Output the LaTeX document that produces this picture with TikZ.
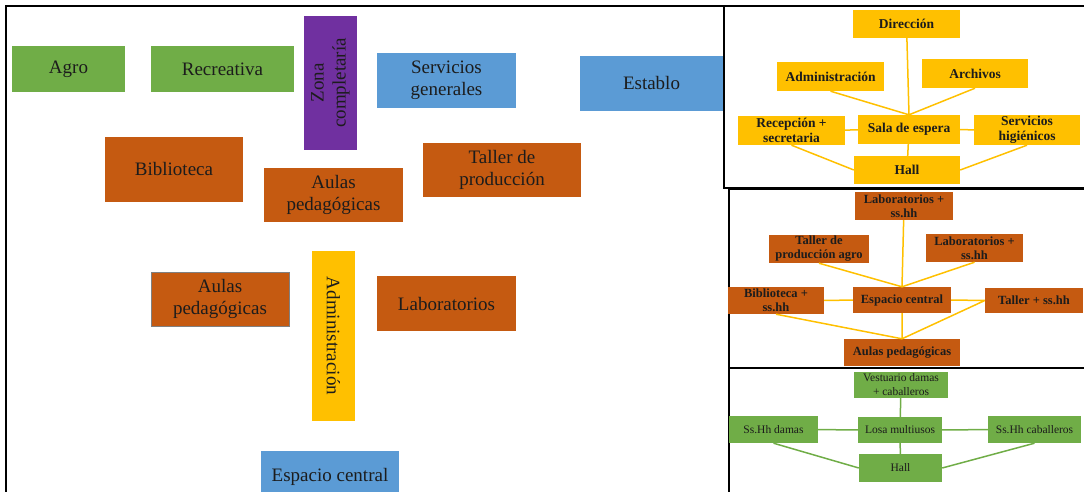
\documentclass[tikz,border=0pt]{standalone}
\usepackage{fontspec}
\setmainfont{Liberation Serif}
\definecolor{GRN}{HTML}{70AD47}
\definecolor{BLU}{HTML}{5B9BD5}
\definecolor{ORA}{HTML}{C55A11}
\definecolor{PUR}{HTML}{7030A0}
\definecolor{YEL}{HTML}{FFC000}
\definecolor{TXT}{HTML}{1C1C1C}
\tikzset{
  zone/.style={% Style for the big zones of the plan
      rectangle,
      inner sep=0pt,
      align=center,
      text=TXT,
      font=\fontsize{19}{22}\selectfont,
  },
  zgrn/.style={zone, fill=GRN},
  zblu/.style={zone, fill=BLU},
  zora/.style={zone, fill=ORA},
  zpur/.style={zone, fill=PUR},
  zyel/.style={zone, fill=YEL},
  room/.style={% Style for the rooms of the small schemes
      rectangle,
      inner sep=0pt,
      align=center,
      text=TXT,
      font=\bfseries\fontsize{13.5}{15}\selectfont,
  },
  ryel/.style={room, fill=YEL},
  rora/.style={room, fill=ORA, font=\bfseries\fontsize{12.5}{14}\selectfont},
  rgrn/.style={room, fill=GRN, font=\fontsize{11.5}{14}\selectfont},
  link/.style={line width=1.5pt, draw=#1},
  panel/.style={line width=1.4pt, draw=black}
}

\begin{document}
\begin{tikzpicture}[x=1pt, y=-1pt]
    \useasboundingbox (0,0) rectangle (1084,492);
    % frames
    \draw[panel] (724,6) -- (6,6) -- (6,500);
    \draw[panel] (724,6) rectangle (1090,188);
    \draw[panel] (729,189) rectangle (1090,368);
    \draw[panel] (729,368) rectangle (1090,500);

    % zoning of the whole plan
    \node[zgrn, minimum width=113, minimum height=46] (agro) at (68.5,69) {Agro};
    \node[zgrn, minimum width=143, minimum height=46] (recre) at (222.5,69) {Recreativa};
    \node[zpur, rotate=90, minimum width=134, minimum height=53] (zona) at (330.5,83) {Zona\\completaría};
    \node[zblu, minimum width=139, minimum height=55] (servg) at (446.5,80.5) {Servicios\\generales};
    \node[zblu, minimum width=143, minimum height=55] (establo) at (651.5,83.5) {Establo};
    \node[zora, minimum width=138, minimum height=65] (biblio) at (174,169.5) {Biblioteca};
    \node[zora, minimum width=139, minimum height=54] (aulasA) at (333.5,195) {Aulas\\pedagógicas};
    \node[zora, minimum width=158, minimum height=54] (tallerP) at (502,170) {Taller de\\producción};
    \node[zora, draw=gray, line width=1pt, minimum width=138, minimum height=54] (aulasB) at (220,299) {Aulas\\pedagógicas};
    \node[zyel, rotate=-90, minimum width=170, minimum height=43] (admin) at (333.5,336) {Administración};
    \node[zora, minimum width=139, minimum height=55] (labs) at (446.5,303.5) {Laboratorios};
    \node[zblu, minimum width=138, minimum height=52] (espacio) at (330,477) {Espacio central};

    % administration scheme
    \node[ryel, minimum width=107, minimum height=28] (dir) at (906.5,24) {Dirección};
    \node[ryel, minimum width=107, minimum height=29] (adm) at (830.5,76.5) {Administración};
    \node[ryel, minimum width=106, minimum height=29] (arch) at (975,73.5) {Archivos};
    \node[ryel, minimum width=107, minimum height=29] (recep) at (791.5,130.5) {Recepción +\\secretaria};
    \node[ryel, minimum width=102, minimum height=29] (sala) at (909,129.5) {Sala de espera};
    \node[ryel, minimum width=106, minimum height=30] (servh) at (1027,130) {Servicios\\higiénicos};
    \node[ryel, minimum width=106, minimum height=28] (hallA) at (907,170) {Hall};
    \draw[link=YEL]
      (dir) -- (sala.north)
      (adm.south) -- (sala.north)
      (arch.south) -- (sala.north)
      (recep) -- (sala)
      (sala) -- (servh)
      (sala) -- (hallA)
      (recep.south) -- (hallA.west)
      (servh.south) -- (hallA.east);

    % pedagogical scheme
    \node[rora, minimum width=98, minimum height=28] (labA) at (904,206) {Laboratorios +\\ss.hh};
    \node[rora, minimum width=100, minimum height=28] (tallerA) at (819,249) {Taller de\\producción agro};
    \node[rora, minimum width=97, minimum height=28] (labB) at (974.5,248) {Laboratorios +\\ss.hh};
    \node[rora, minimum width=96, minimum height=27] (bibB) at (776,300.5) {Biblioteca +\\ss.hh};
    \node[rora, minimum width=98, minimum height=26] (espC) at (902,300) {Espacio central};
    \node[rora, minimum width=98, minimum height=25] (tallerB) at (1034,300.5) {Taller + ss.hh};
    \node[rora, minimum width=116, minimum height=27] (aulasC) at (902,352.5) {Aulas pedagógicas};
    \draw[link=YEL]
      (labA) -- (espC.north)
      (tallerA.south) -- (espC.north)
      (labB.south) -- (espC.north)
      (bibB) -- (espC)
      (espC) -- (tallerB)
      (espC) -- (aulasC)
      (bibB.south) -- (aulasC.north)
      (tallerB.west) -- (aulasC.north);

    % sports scheme
    \node[rgrn, minimum width=94, minimum height=26] (vest) at (901,385) {Vestuario damas\\+ caballeros};
    \node[rgrn, minimum width=89, minimum height=27] (damas) at (773.5,429.5) {Ss.Hh damas};
    \node[rgrn, minimum width=84, minimum height=26] (losa) at (900,430) {Losa multiusos};
    \node[rgrn, minimum width=93, minimum height=27] (cab) at (1034.5,429.5) {Ss.Hh caballeros};
    \node[rgrn, minimum width=83, minimum height=28] (hallB) at (900.5,468) {Hall};
    \draw[link=GRN]
      (vest) -- (losa)
      (damas) -- (losa)
      (losa) -- (cab)
      (losa) -- (hallB)
      (damas.south) -- (hallB.west)
      (cab.south) -- (hallB.east);
\end{tikzpicture}
\end{document}
